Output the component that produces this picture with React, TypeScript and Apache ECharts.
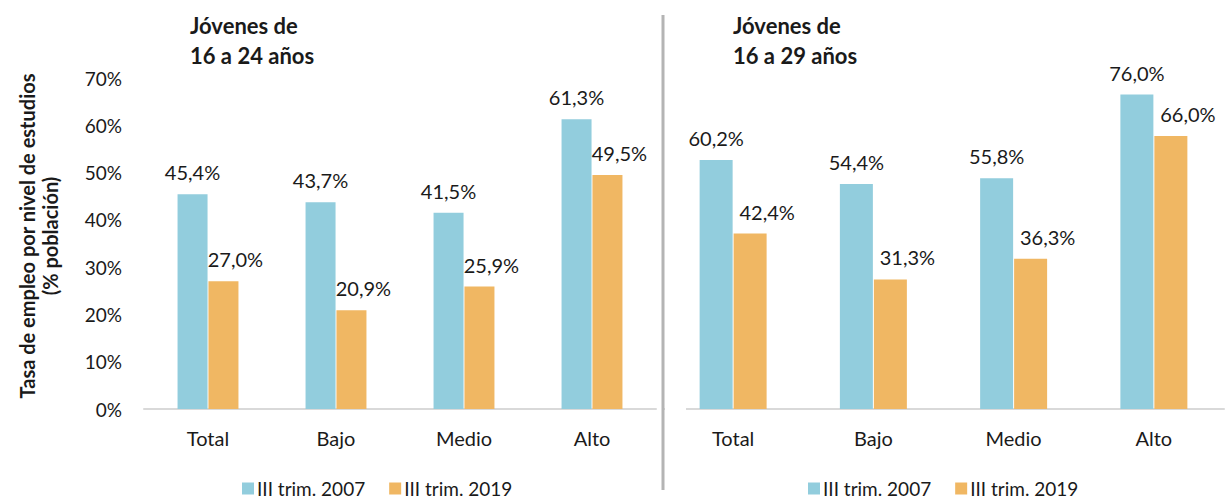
import React, { useEffect, useRef } from "react";
import * as echarts from "echarts";

const categories = ["Total", "Bajo", "Medio", "Alto"];
const seriesNames = ["III trim. 2007", "III trim. 2019"];
const left2007 = [45.4, 43.7, 41.5, 61.3];
const left2019 = [27.0, 20.9, 25.9, 49.5];
const right2007 = [60.2, 54.4, 55.8, 76.0];
const right2019 = [42.4, 31.3, 36.3, 66.0];
const leftTitle = "Jóvenes de\n16 a 24 años";
const rightTitle = "Jóvenes de\n16 a 29 años";
const yAxisTitle = "Tasa de empleo por nivel de estudios\n(% población)";

const BLUE = "#92CDDD";
const ORANGE = "#F0B763";
const FONT = "Lato";
const TXT = "#1a1a1a";

const fmt = (p: any) => p.value.toFixed(1).replace(".", ",") + "%";

export default function App() {
  const ref = useRef<HTMLDivElement>(null);
  useEffect(() => {
    if (!ref.current) return;
    const chart = echarts.init(ref.current, null, { renderer: "svg" });
    const labelBase = {
      show: true,
      position: "top",
      distance: 12,
      formatter: fmt,
      fontSize: 20,
      fontFamily: FONT,
      color: TXT,
    };
    const mkSeries = (name: string, data: number[], idx: number, color: string, bw: number, off: number) => ({
      type: "bar",
      name,
      data,
      xAxisIndex: idx,
      yAxisIndex: idx,
      barWidth: bw,
      barGap: "3%",
      itemStyle: { color },
      label: { ...labelBase, offset: [off, 0] },
    });
    const xAxisBase = {
      type: "category",
      data: categories,
      axisLine: { lineStyle: { color: "#d9d9d9", width: 2 } },
      axisTick: { show: false },
      axisLabel: { fontSize: 20, fontFamily: FONT, color: TXT, margin: 19 },
    };
    const legendBase = {
      data: seriesNames,
      icon: "rect",
      itemWidth: 12,
      itemHeight: 12,
      itemGap: 24,
      top: 479,
      padding: 0,
      textStyle: { fontSize: 19, fontFamily: FONT, color: TXT, padding: [0, 0, 0, -2] },
    };
    chart.setOption({
      animation: false,
      backgroundColor: "#fff",
      grid: [
        { left: 144, width: 512, top: 78, height: 331 },
        { left: 663, width: 561, top: 78, height: 331 },
      ],
      xAxis: [
        { ...xAxisBase, gridIndex: 0 },
        { ...xAxisBase, gridIndex: 1 },
      ],
      yAxis: [
        {
          type: "value",
          gridIndex: 0,
          min: 0,
          max: 70,
          interval: 10,
          axisLine: { show: false },
          axisTick: { show: false },
          splitLine: { show: false },
          axisLabel: { formatter: "{value}%", fontSize: 19, fontFamily: FONT, color: TXT, margin: 22 },
        },
        {
          type: "value",
          gridIndex: 1,
          min: 0,
          max: 80,
          show: false,
          splitLine: { show: false },
        },
      ],
      legend: [
        { ...legendBase, left: 242 },
        { ...legendBase, left: 808 },
      ],
      series: [
        mkSeries(seriesNames[0], left2007, 0, BLUE, 30, 0),
        mkSeries(seriesNames[1], left2019, 0, ORANGE, 30, 12),
        mkSeries(seriesNames[0], right2007, 1, BLUE, 33, 0),
        mkSeries(seriesNames[1], right2019, 1, ORANGE, 33, 17),
      ],
      graphic: [
        {
          type: "line",
          shape: { x1: 663, y1: 15, x2: 663, y2: 490 },
          style: { stroke: "#b4b4b4", lineWidth: 3 },
          z: 10,
        },
        {
          type: "rect",
          shape: { x: 665, y: 406, width: 21, height: 6 },
          style: { fill: "#fff" },
          z: 9,
        },
        {
          type: "text",
          x: 190,
          y: 10,
          style: { text: leftTitle, font: `bold 22px ${FONT}`, fill: TXT, lineHeight: 30 },
        },
        {
          type: "text",
          x: 733,
          y: 10,
          style: { text: rightTitle, font: `bold 22px ${FONT}`, fill: TXT, lineHeight: 30 },
        },
        {
          type: "text",
          x: 38,
          y: 236,
          rotation: Math.PI / 2,
          style: {
            text: yAxisTitle,
            font: `bold 20px ${FONT}`,
            fill: TXT,
            lineHeight: 23,
            align: "center",
            verticalAlign: "middle",
          },
        },
      ],
    });
    return () => chart.dispose();
  }, []);
  return (
    <div
      ref={ref}
      style={{ position: "fixed", left: 0, top: 0, width: 1230, height: 499 }}
    />
  );
}
